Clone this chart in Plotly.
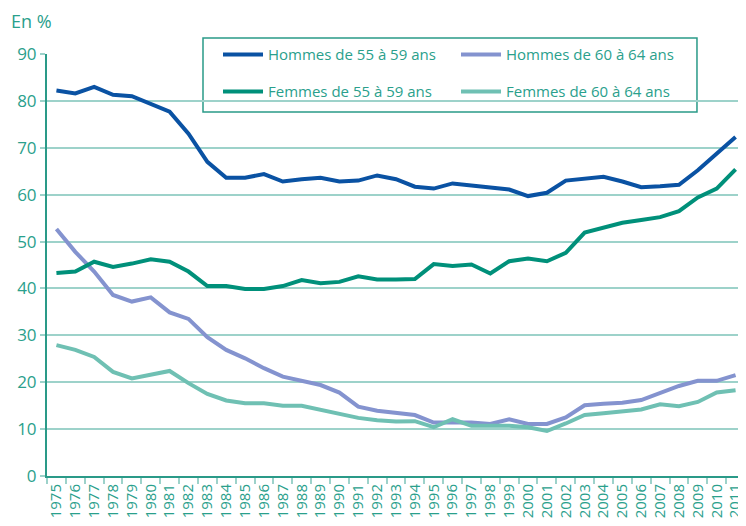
import plotly.graph_objects as go

# ── Data (taux d'emploi, en %) ───────────────────────────────────────────────
years = [str(y) for y in range(1975, 2012)]

hommes_55_59 = [
    82.2, 81.6, 83.0, 81.3, 81.0, 79.4, 77.7, 73.0, 67.0, 63.6,
    63.6, 64.4, 62.8, 63.3, 63.6, 62.8, 63.0, 64.1, 63.3, 61.7,
    61.3, 62.4, 61.9, 61.4, 61.1, 59.7, 60.4, 63.0, 63.3, 63.8,
    62.8, 61.6, 61.8, 62.1, 65.2, 68.8, 72.3,
]
hommes_60_64 = [
    52.7, 47.8, 43.6, 38.6, 37.2, 38.1, 34.9, 33.5, 29.6, 26.9,
    25.1, 23.0, 21.2, 20.3, 19.4, 17.8, 14.8, 13.9, 13.5, 13.0,
    11.4, 11.4, 11.4, 11.1, 12.1, 11.1, 11.1, 12.5, 15.1, 15.4,
    15.6, 16.2, 17.6, 19.2, 20.3, 20.3, 21.5,
]
femmes_55_59 = [
    43.3, 43.6, 45.7, 44.6, 45.3, 46.2, 45.7, 43.6, 40.5, 40.5,
    39.9, 39.9, 40.5, 41.8, 41.1, 41.4, 42.6, 41.9, 41.9, 42.0,
    45.2, 44.8, 45.1, 43.2, 45.8, 46.4, 45.8, 47.6, 51.9, 52.9,
    54.0, 54.6, 55.2, 56.5, 59.4, 61.3, 65.4,
]
femmes_60_64 = [
    27.9, 26.9, 25.4, 22.2, 20.8, 21.5, 22.4, 19.8, 17.5, 16.1,
    15.5, 15.5, 15.0, 15.0, 14.1, 13.2, 12.4, 11.9, 11.6, 11.7,
    10.4, 12.1, 10.7, 10.7, 10.7, 10.4, 9.6, 11.2, 13.0, 13.4,
    13.9, 14.2, 15.3, 14.9, 15.8, 17.8, 18.3,
]

# ── Styles ───────────────────────────────────────────────────────────────────
TEXT = "#2aa08c"
AXIS = "#2a9a88"
GRID = "#9dd2ca"
FONT = "Open Sans"

series = [
    ("Hommes de 55 à 59 ans", hommes_55_59, "#0a52a3", "legend"),
    ("Hommes de 60 à 64 ans", hommes_60_64, "#8493cf", "legend"),
    ("Femmes de 55 à 59 ans", femmes_55_59, "#00907a", "legend2"),
    ("Femmes de 60 à 64 ans", femmes_60_64, "#6fc0b3", "legend2"),
]

fig = go.Figure()
for name, values, color, legend in series:
    fig.add_trace(
        go.Scatter(
            x=years,
            y=values,
            mode="lines",
            name=name,
            line=dict(color=color, width=4),
            legend=legend,
        )
    )

# Legend frame (one box around both legend rows)
fig.add_shape(
    type="rect",
    xref="paper", yref="paper",
    x0=0.2235, x1=0.9312, y0=0.8626, y1=1.0379,
    fillcolor="white",
    line=dict(color=AXIS, width=1.5),
    layer="between",
)
# Right border of the plot area
fig.add_shape(
    type="line",
    xref="paper", yref="paper",
    x0=1, x1=1, y0=0, y1=1,
    line=dict(color=GRID, width=1.5),
)

fig.add_annotation(
    text="En %",
    xref="paper", yref="paper",
    x=-0.055, y=1.078,
    xanchor="left", yanchor="middle",
    showarrow=False,
    font=dict(family=FONT, size=18, color=TEXT),
)

legend_common = dict(
    orientation="h",
    xanchor="left",
    yanchor="middle",
    x=0.245,
    bgcolor="rgba(0,0,0,0)",
    font=dict(family=FONT, size=15, color=TEXT),
    entrywidth=183,
    itemwidth=40,
    itemclick=False,
)

# the page body keeps an 8px margin, so the figure is sized to fit inside it
fig.update_layout(
    width=738,
    height=510,
    margin=dict(l=39, r=1, t=46, b=42),
    paper_bgcolor="white",
    plot_bgcolor="white",
    font=dict(family=FONT, color=TEXT),
    showlegend=True,
    legend=dict(y=0.998, **legend_common),
    legend2=dict(y=0.9107, **legend_common),
    xaxis=dict(
        type="category",
        automargin=False,
        tickmode="linear",
        tick0=0,
        dtick=1,
        tickson="boundaries",
        ticks="outside",
        ticklen=6,
        tickcolor=GRID,
        tickwidth=1.5,
        tickangle=-90,
        tickfont=dict(family=FONT, size=15, color=TEXT),
        showline=True,
        linecolor=AXIS,
        linewidth=2,
        showgrid=False,
        range=[-0.5, len(years) - 0.5],
    ),
    yaxis=dict(
        range=[0, 90],
        dtick=10,
        automargin=False,
        ticks="outside",
        ticklen=5,
        tickcolor=GRID,
        tickwidth=1.5,
        tickfont=dict(family=FONT, size=17, color=TEXT),
        showline=True,
        linecolor=AXIS,
        linewidth=2,
        showgrid=True,
        gridcolor=GRID,
        gridwidth=1.5,
        zeroline=False,
    ),
)

fig.write_html("out.html")
